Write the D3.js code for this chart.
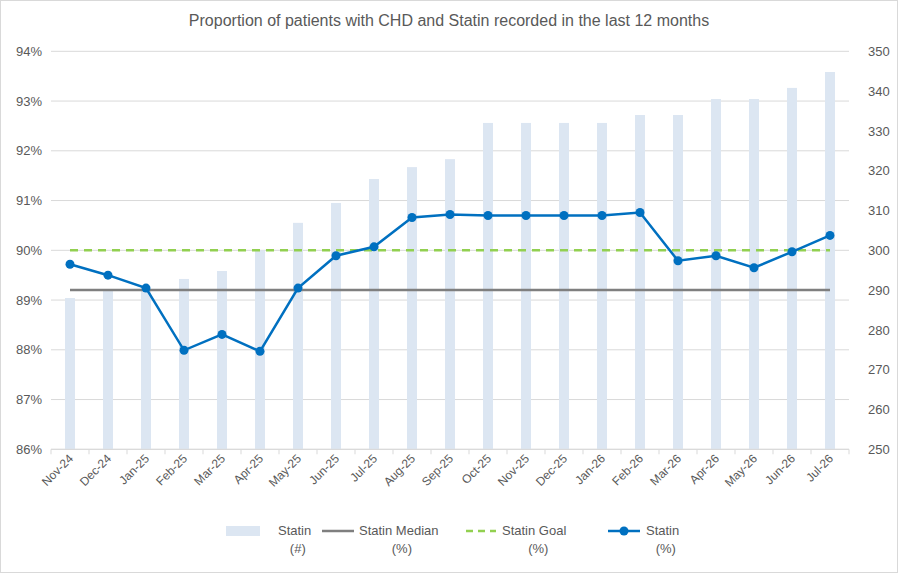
<!DOCTYPE html>
<html><head><meta charset="utf-8">
<script src="https://cdn.jsdelivr.net/npm/d3@7"></script>
<style>body{margin:0;background:#fff}text{font-family:"Liberation Sans",Arial,sans-serif;fill:#595959}</style>
</head><body><svg id="c" width="898" height="573"></svg>
<script>
const categories=["Nov-24","Dec-24","Jan-25","Feb-25","Mar-25","Apr-25","May-25","Jun-25","Jul-25","Aug-25","Sep-25","Oct-25","Nov-25","Dec-25","Jan-26","Feb-26","Mar-26","Apr-26","May-26","Jun-26","Jul-26"];
const statinCount=[288,290,290,292.8,294.8,300,306.9,311.9,317.9,320.9,322.9,332,332,332,332,334,334,338,338,340.8,344.8];
const statinPct=[89.72,89.50,89.24,87.99,88.31,87.97,89.24,89.89,90.07,90.66,90.72,90.70,90.70,90.70,90.70,90.76,89.79,89.89,89.65,89.97,90.30];
const medianPct=89.2, goalPct=90;
const leftTicks=[86,87,88,89,90,91,92,93,94];
const rightTicks=[250,260,270,280,290,300,310,320,330,340,350];

const svg=d3.select("#c");
const L=51,R=849,T=51.3,B=449.3;
const x=d3.scaleBand().domain(categories).range([L,R]);
const yL=d3.scaleLinear().domain([86,94]).range([B,T]);
const yR=d3.scaleLinear().domain([250,350]).range([B,T]);
svg.append("rect").attr("x",0.5).attr("y",0.5).attr("width",897).attr("height",572).attr("fill","#fff").attr("stroke","#d9d9d9");
svg.append("text").attr("x",449).attr("y",26).attr("text-anchor","middle").attr("font-size",16).text("Proportion of patients with CHD and Statin recorded in the last 12 months");
svg.append("g").selectAll("line").data(leftTicks).join("line").attr("x1",L).attr("x2",R).attr("y1",d=>yL(d)).attr("y2",d=>yL(d)).attr("stroke","#d9d9d9");
const cx=d=>x(d)+x.bandwidth()/2;
svg.append("g").selectAll("rect").data(categories).join("rect").attr("x",d=>cx(d)-5).attr("width",10)
 .attr("y",(d,i)=>yR(statinCount[i])).attr("height",(d,i)=>B-yR(statinCount[i])).attr("fill","#dce6f2");
// x axis
svg.append("line").attr("x1",L).attr("x2",R).attr("y1",B).attr("y2",B).attr("stroke","#d9d9d9");
svg.append("g").selectAll("line").data(d3.range(categories.length+1)).join("line").attr("x1",i=>L+i*x.step()).attr("x2",i=>L+i*x.step()).attr("y1",B).attr("y2",B+5).attr("stroke","#d9d9d9");
svg.append("g").selectAll("text").data(categories).join("text").attr("font-size",12).attr("text-anchor","end")
 .attr("transform",d=>`translate(${cx(d)+4},${B+10}) rotate(-45)`).text(d=>d);
svg.append("g").attr("transform",`translate(${L-6},0)`).call(d3.axisLeft(yL).tickValues(leftTicks).tickFormat(d=>d+"%").tickSize(0))
 .call(g=>{g.select(".domain").remove();g.selectAll("text").attr("font-size",13).attr("fill","#595959").attr("font-family","Liberation Sans, Arial")});
svg.append("g").attr("transform",`translate(${R+16},0)`).call(d3.axisRight(yR).tickValues(rightTicks).tickSize(0))
 .call(g=>{g.select(".domain").remove();g.selectAll("text").attr("font-size",13).attr("fill","#595959").attr("font-family","Liberation Sans, Arial")});
const x0=cx(categories[0]),x1=cx(categories[categories.length-1]);
svg.append("line").attr("x1",x0).attr("x2",x1).attr("y1",yL(medianPct)).attr("y2",yL(medianPct)).attr("stroke","#7f7f7f").attr("stroke-width",2.5);
svg.append("line").attr("x1",x0).attr("x2",x1).attr("y1",yL(goalPct)).attr("y2",yL(goalPct)).attr("stroke","#92d050").attr("stroke-width",2.5).attr("stroke-dasharray","8,6");
svg.append("path").datum(statinPct).attr("fill","none").attr("stroke","#0070c0").attr("stroke-width",2.5)
 .attr("d",d3.line().x((d,i)=>cx(categories[i])).y(d=>yL(d)));
svg.append("g").selectAll("circle").data(statinPct).join("circle").attr("cx",(d,i)=>cx(categories[i])).attr("cy",d=>yL(d)).attr("r",4.5).attr("fill","#0070c0");
// legend
const lg=svg.append("g").attr("font-size",13);
const items=[{sx:226,tx:278,l1:"Statin",l2:"(#)",t:"bar"},{sx:322,tx:359,l1:"Statin Median",l2:"(%)",t:"med"},{sx:466,tx:502,l1:"Statin Goal",l2:"(%)",t:"goal"},{sx:608,tx:646,l1:"Statin",l2:"(%)",t:"pct"}];
items.forEach(it=>{
 if(it.t==="bar") lg.append("rect").attr("x",it.sx).attr("y",526).attr("width",34).attr("height",10).attr("fill","#dce6f2");
 if(it.t==="med") lg.append("line").attr("x1",it.sx).attr("x2",it.sx+32).attr("y1",531).attr("y2",531).attr("stroke","#7f7f7f").attr("stroke-width",2.5);
 if(it.t==="goal") lg.append("line").attr("x1",it.sx).attr("x2",it.sx+30).attr("y1",531).attr("y2",531).attr("stroke","#92d050").attr("stroke-width",2.5).attr("stroke-dasharray","7,5");
 if(it.t==="pct"){lg.append("line").attr("x1",it.sx).attr("x2",it.sx+32).attr("y1",531).attr("y2",531).attr("stroke","#0070c0").attr("stroke-width",2.5);
  lg.append("circle").attr("cx",it.sx+16).attr("cy",531).attr("r",4.5).attr("fill","#0070c0");}
 const w=it.l1.length*6.6;
 lg.append("text").attr("x",it.tx).attr("y",535).text(it.l1);
 lg.append("text").attr("x",it.tx+w/2).attr("y",553).attr("text-anchor","middle").text(it.l2);
});
</script></body></html>
